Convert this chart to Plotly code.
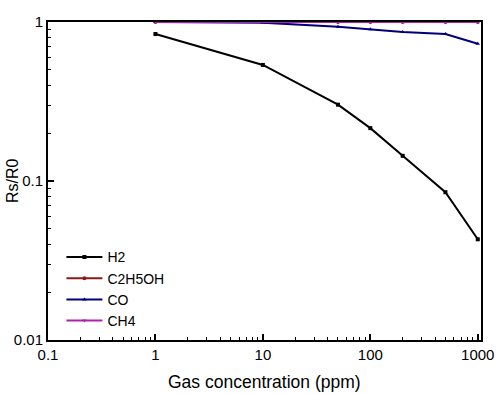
import plotly.graph_objects as go

conc = [1, 10, 50, 100, 200, 500, 1000]
h2 = [0.84, 0.537, 0.302, 0.215, 0.144, 0.085, 0.043]
c2h5oh = [1.0, 1.0, 1.0, 1.0, 1.0, 1.0, 1.0]
co = [1.0, 0.99, 0.935, 0.90, 0.865, 0.84, 0.73]
ch4 = [1.0, 1.0, 1.0, 1.0, 1.0, 1.0, 1.0]

names = ["H2", "C2H5OH", "CO", "CH4"]
colors = ["#000000", "#8b1a1a", "#00007a", "#b020b0"]
symbols = ["square", "circle", "triangle-up", "triangle-down"]
series = [h2, c2h5oh, co, ch4]

xticks = [0.1, 1, 10, 100, 1000]
xticklabels = ["0.1", "1", "10", "100", "1000"]
yticks = [0.01, 0.1, 1]
yticklabels = ["0.01", "0.1", "1"]

FONT = "Arial, Liberation Sans, sans-serif"

fig = go.Figure()
for n, c, s, v in zip(names, colors, symbols, series):
    fig.add_trace(go.Scatter(
        x=conc, y=v, name=n, mode="lines+markers",
        line=dict(color=c, width=2),
        marker=dict(symbol=s, size=4, color=c),
        cliponaxis=False,
    ))

axis_common = dict(
    type="log", showline=True, linecolor="black", linewidth=2, mirror=True,
    ticks="inside", ticklen=6, tickwidth=1.5, tickcolor="black",
    showgrid=False, zeroline=False, automargin=False,
    tickfont=dict(family=FONT, size=15, color="black"),
    minor=dict(ticks="inside", ticklen=3, tickwidth=1, tickcolor="black", dtick="D1", showgrid=False),
)

fig.update_xaxes(**axis_common, range=[-1, 3.03], tickvals=xticks, ticktext=xticklabels)
fig.update_yaxes(**axis_common, range=[-2, 0], tickvals=yticks, ticktext=yticklabels)

fig.update_layout(
    width=500, height=394,
    margin=dict(l=48, r=19, t=22, b=54),
    paper_bgcolor="white", plot_bgcolor="white",
    showlegend=True,
    legend=dict(
        x=0.031, y=0.31, xanchor="left", yanchor="top",
        bgcolor="rgba(0,0,0,0)", borderwidth=0,
        font=dict(family=FONT, size=14, color="black"),
        tracegroupgap=0, itemwidth=36,
    ),
    annotations=[
        dict(text="Gas concentration (ppm)", xref="paper", yref="paper", x=0.5, y=-0.132,
             xanchor="center", yanchor="middle", showarrow=False,
             font=dict(family=FONT, size=17.5, color="black")),
        dict(text="Rs/R0", xref="paper", yref="paper", x=-0.083, y=0.5,
             xanchor="center", yanchor="middle", showarrow=False, textangle=-90,
             font=dict(family=FONT, size=16, color="black")),
    ],
)

fig.write_html("out.html", config={"displayModeBar": False},
               post_script="document.body.style.margin='0';")
